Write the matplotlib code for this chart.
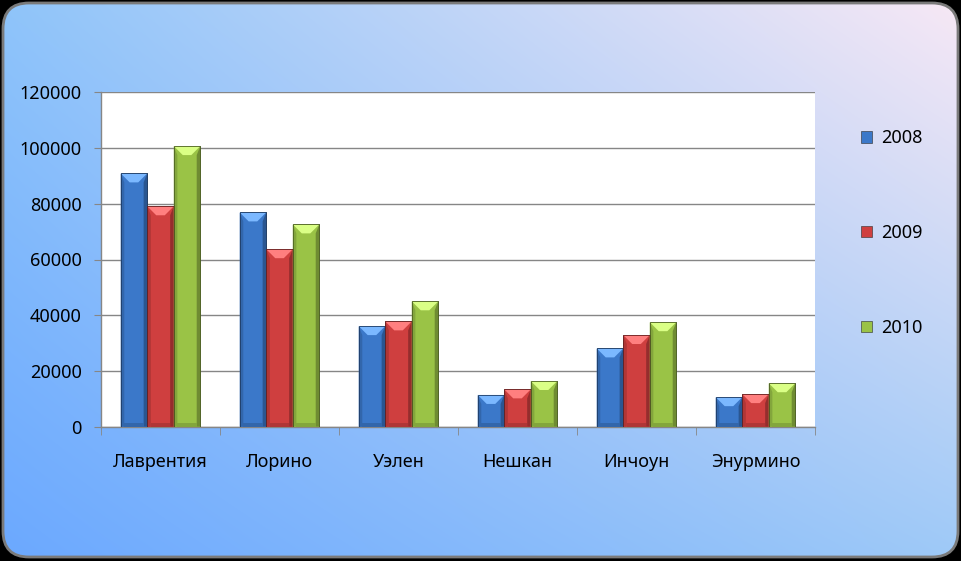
import matplotlib
matplotlib.use("Agg")
import matplotlib.pyplot as plt
import numpy as np
from matplotlib.patches import FancyBboxPatch, Polygon
from matplotlib.colors import to_rgb

# data
villages = ["Лаврентия", "Лорино", "Уэлен", "Нешкан", "Инчоун", "Энурмино"]
years = ["2008", "2009", "2010"]
values_2008 = [90900, 76900, 36100, 11400, 28100, 10600]
values_2009 = [79100, 63700, 37800, 13400, 32900, 11700]
values_2010 = [100700, 72600, 45000, 16400, 37500, 15600]
y_ticks = [0, 20000, 40000, 60000, 80000, 100000, 120000]

bar_colors = ["#3b78c9", "#cf3f3f", "#9ac346"]

plt.rcParams["font.family"] = ["Noto Sans", "DejaVu Sans"]

W, H = 962, 561
fig = plt.figure(figsize=(W / 100, H / 100), dpi=100)
fig.patch.set_facecolor("black")

# rounded gradient background
bg = fig.add_axes([0, 0, 1, 1], zorder=-2)
bg.set_xlim(0, W)
bg.set_ylim(0, H)
bg.axis("off")
nx, ny = 200, 120
u = np.linspace(0, 1, nx)[None, :, None]
v = np.linspace(0, 1, ny)[:, None, None]
c_bl = np.array([0.42, 0.66, 1.00])
c_br = np.array([0.62, 0.79, 0.97])
c_tl = np.array([0.56, 0.77, 0.98])
c_tr = np.array([0.97, 0.91, 0.96])
grad = (c_bl * (1 - u) * (1 - v) + c_br * u * (1 - v)
        + c_tl * (1 - u) * v + c_tr * u * v)
img = bg.imshow(grad, extent=[0, W, 0, H], origin="lower", aspect="auto",
                interpolation="bilinear")
frame = FancyBboxPatch((3, 4), W - 7, H - 7,
                       boxstyle="round,pad=0,rounding_size=26",
                       facecolor="none", edgecolor="#7a7a7a", linewidth=2)
bg.add_patch(frame)
img.set_clip_path(frame)

# plot area
left, right, top, bottom = 101, 815, 92.3, 426.7
ax = fig.add_axes([left / W, 1 - bottom / H, (right - left) / W, (bottom - top) / H])
ax.set_facecolor("white")

x = np.arange(len(villages))
bw = 0.223
series = [values_2008, values_2009, values_2010]
bars = []
for i, (vals, col, lab) in enumerate(zip(series, bar_colors, years)):
    b = ax.bar(x + (i - 1) * bw, vals, width=bw, color=col, label=lab,
               edgecolor="#2a2a2a", linewidth=0.4, zorder=3)
    bars.append(b)

ax.set_xlim(-0.5, len(villages) - 0.5)
ax.set_ylim(0, 120000)

# bevel look on each bar, computed from the drawn bar geometry
px_x = (right - left) / (len(villages))
px_y = (bottom - top) / 120000
bev = 9
for b, col in zip(bars, bar_colors):
    base = np.array(to_rgb(col))
    light = np.clip(base + 0.25, 0, 1)
    dark = base * 0.72
    for p in b.patches:
        x0, w, h = p.get_x(), p.get_width(), p.get_height()
        bx = bev / px_x
        by = min(bev / px_y, h / 2)
        x1 = x0 + w
        pts_top = [(x0, h), (x1, h), (x1 - bx, h - by), (x0 + bx, h - by)]
        pts_l = [(x0, 0), (x0, h), (x0 + bx * 0.4, h - by), (x0 + bx * 0.4, 0)]
        pts_r = [(x1, 0), (x1, h), (x1 - bx * 0.4, h - by), (x1 - bx * 0.4, 0)]
        pts_b = [(x0 + bx * 0.4, 0), (x1 - bx * 0.4, 0),
                 (x1 - bx * 0.4, by * 0.45), (x0 + bx * 0.4, by * 0.45)]
        ax.add_patch(Polygon(pts_l, closed=True, facecolor=base * 0.85, edgecolor="none", zorder=3.1))
        ax.add_patch(Polygon(pts_r, closed=True, facecolor=dark, edgecolor="none", zorder=3.1))
        ax.add_patch(Polygon(pts_b, closed=True, facecolor=base * 0.85, edgecolor="none", zorder=3.1))
        ax.add_patch(Polygon(pts_top, closed=True, facecolor=light, edgecolor="none", zorder=3.2))
        ax.add_patch(Polygon([(x0, 0), (x0, h), (x1, h), (x1, 0)], closed=True,
                             facecolor="none", edgecolor=dark * 0.7, linewidth=0.6, zorder=3.3))

grid_col = "#868686"
ax.set_yticks(y_ticks)
ax.set_yticklabels([str(t) for t in y_ticks])
ax.yaxis.grid(True, color=grid_col, linewidth=1)
ax.set_axisbelow(True)
for s in ["top", "right"]:
    ax.spines[s].set_visible(False)
for s in ["left", "bottom"]:
    ax.spines[s].set_color(grid_col)
    ax.spines[s].set_linewidth(1)

ax.set_xticks(x)
ax.set_xticklabels(villages)
ax.set_xticks(np.arange(-0.5, len(villages)), minor=True)
ax.tick_params(axis="x", which="major", length=0, pad=19, labelsize=13, colors="black")
ax.tick_params(axis="x", which="minor", length=6, color=grid_col, direction="out")
ax.tick_params(axis="y", length=5, color=grid_col, pad=9, labelsize=13, colors="black")

leg = ax.legend(loc="center left", bbox_to_anchor=(1.054, 0.579), frameon=False,
                fontsize=13, handlelength=0.6, handleheight=0.6, handletextpad=0.5,
                labelspacing=4.25, borderaxespad=0)

fig.savefig("out.png", dpi=100, facecolor=fig.get_facecolor())
